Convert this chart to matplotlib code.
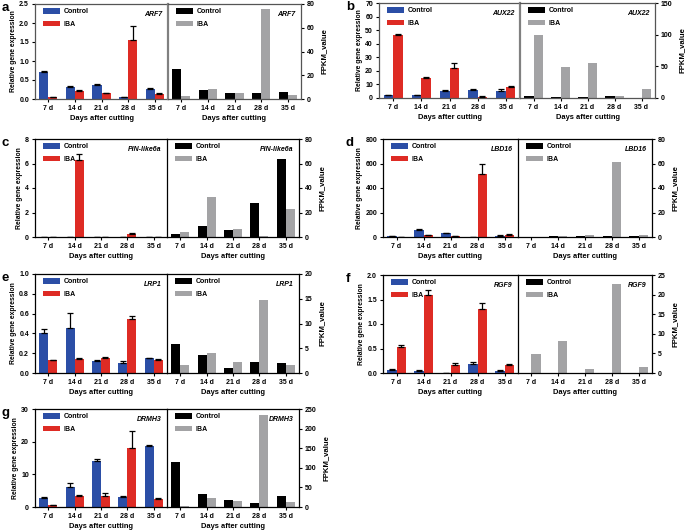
import matplotlib
matplotlib.use("Agg")
import matplotlib.pyplot as plt
import numpy as np

plt.rcParams['font.family'] = ['Liberation Sans', 'DejaVu Sans']
plt.rcParams['font.weight'] = 'bold'

days = ["7 d", "14 d", "21 d", "28 d", "35 d"]

# ---- data ----
a_ctrl = [0.71, 0.32, 0.36, 0.05, 0.27]
a_ctrl_err = [0.03, 0.03, 0.04, 0.01, 0.02]
a_iba = [0.05, 0.22, 0.15, 1.55, 0.13]
a_iba_err = [0.01, 0.02, 0.02, 0.36, 0.02]
a_fpkm_ctrl = [25, 7.9, 5.4, 4.8, 5.6]
a_fpkm_iba = [2.5, 8.7, 5.3, 75.5, 3.7]

b_ctrl = [2.2, 2.2, 5.1, 5.9, 5.4]
b_ctrl_err = [0.3, 0.3, 0.5, 0.4, 1.3]
b_iba = [46.7, 14.4, 22.3, 1.0, 8.3]
b_iba_err = [0.8, 1.1, 3.2, 0.2, 0.4]
b_fpkm_ctrl = [3, 1, 1.5, 3, 0.5]
b_fpkm_iba = [99, 49, 54.5, 3.5, 14.7]

c_ctrl = [0, 0.03, 0, 0, 0]
c_ctrl_err = [0, 0, 0, 0, 0]
c_iba = [0, 6.25, 0, 0.22, 0]
c_iba_err = [0, 0.55, 0, 0.08, 0]
c_fpkm_ctrl = [2.2, 9, 5.5, 27.4, 63.5]
c_fpkm_iba = [4.4, 33, 6.3, 1, 22.5]

d_ctrl = [5, 55, 33, 0, 12]
d_ctrl_err = [0, 8, 3, 0, 2]
d_iba = [0, 16, 8, 512, 17]
d_iba_err = [0, 2, 2, 88, 5]
d_fpkm_ctrl = [0, 0.8, 0.8, 0.5, 0.8]
d_fpkm_iba = [0, 0.8, 1.5, 61, 1.7]

e_ctrl = [0.40, 0.45, 0.12, 0.10, 0.15]
e_ctrl_err = [0.04, 0.16, 0.015, 0.02, 0.005]
e_iba = [0.13, 0.14, 0.15, 0.55, 0.135]
e_iba_err = [0.005, 0.008, 0.015, 0.03, 0.01]
e_fpkm_ctrl = [5.8, 3.7, 1.0, 2.2, 2.1]
e_fpkm_iba = [1.6, 4.0, 2.2, 14.8, 1.6]

f_ctrl = [0.07, 0.05, 0.01, 0.19, 0.05]
f_ctrl_err = [0.005, 0.005, 0, 0.025, 0.005]
f_iba = [0.53, 1.59, 0.17, 1.31, 0.16]
f_iba_err = [0.04, 0.11, 0.03, 0.12, 0.015]
f_fpkm_ctrl = [0, 0, 0, 0, 0]
f_fpkm_iba = [4.8, 8.1, 1.1, 22.6, 1.6]

g_ctrl = [2.7, 6.0, 14.1, 3.2, 18.8]
g_ctrl_err = [0.3, 1.2, 0.7, 0.3, 0.2]
g_iba = [0.5, 3.3, 3.5, 18.0, 2.4]
g_iba_err = [0.05, 0.3, 0.7, 5.2, 0.3]
g_fpkm_ctrl = [116, 34, 18.6, 10, 27]
g_fpkm_iba = [3.5, 23, 16, 235, 12.7]

panels = [
    dict(letter="a", gene="ARF7", d=(a_ctrl, a_ctrl_err, a_iba, a_iba_err, a_fpkm_ctrl, a_fpkm_iba),
         lmax=2.5, lstep=0.5, lfmt="{:.1f}", rmax=80, rstep=20, px=(35, 168, 301, 4, 99), grey=True),
    dict(letter="b", gene="AUX22", d=(b_ctrl, b_ctrl_err, b_iba, b_iba_err, b_fpkm_ctrl, b_fpkm_iba),
         lmax=70, lstep=10, lfmt="{:.0f}", rmax=150, rstep=50, px=(379, 520, 655, 3, 98), grey=True),
    dict(letter="c", gene="PIN-like6a", d=(c_ctrl, c_ctrl_err, c_iba, c_iba_err, c_fpkm_ctrl, c_fpkm_iba),
         lmax=8, lstep=2, lfmt="{:.0f}", rmax=80, rstep=20, px=(35, 167, 299, 139, 237), grey=False),
    dict(letter="d", gene="LBD16", d=(d_ctrl, d_ctrl_err, d_iba, d_iba_err, d_fpkm_ctrl, d_fpkm_iba),
         lmax=800, lstep=200, lfmt="{:.0f}", rmax=80, rstep=20, px=(383, 518, 652, 139, 237), grey=False),
    dict(letter="e", gene="LRP1", d=(e_ctrl, e_ctrl_err, e_iba, e_iba_err, e_fpkm_ctrl, e_fpkm_iba),
         lmax=1.0, lstep=0.2, lfmt="{:.1f}", rmax=20, rstep=5, px=(35, 167, 299, 274, 373), grey=False),
    dict(letter="f", gene="RGF9", d=(f_ctrl, f_ctrl_err, f_iba, f_iba_err, f_fpkm_ctrl, f_fpkm_iba),
         lmax=2.0, lstep=0.5, lfmt="{:.1f}", rmax=25, rstep=5, px=(383, 518, 652, 275, 373), grey=False),
    dict(letter="g", gene="DRMH3", d=(g_ctrl, g_ctrl_err, g_iba, g_iba_err, g_fpkm_ctrl, g_fpkm_iba),
         lmax=30, lstep=10, lfmt="{:.0f}", rmax=250, rstep=50, px=(35, 167, 299, 409, 507), grey=False),
]

W, H = 685, 530
fig = plt.figure(figsize=(W / 100, H / 100), dpi=100)

BLUE = "#2B4EA6"
RED = "#DE2B24"
BLACK = "#000000"
GREY = "#A3A3A5"
FS_T = 5.0
FS_L = 5.4
bw = 0.34
x = np.arange(len(days))

def fax(x0, x1, y0, y1):
    return fig.add_axes([x0 / W, 1 - y1 / H, (x1 - x0) / W, (y1 - y0) / H])

for p in panels:
    x0, xm, x1, y0, y1 = p["px"]
    ctrl, ctrl_e, iba, iba_e, fc, fi = p["d"]
    spine_c = "#555555" if p["grey"] else "black"
    div_c = "#808080" if p["grey"] else "black"
    div_w = 1.6 if p["grey"] else 0.9

    axL = fax(x0, xm, y0, y1)
    axR = fax(xm, x1, y0, y1)

    axL.bar(x - bw / 2, ctrl, bw, color=BLUE, label="Control", zorder=2)
    axL.bar(x + bw / 2, iba, bw, color=RED, label="IBA", zorder=2)
    axL.errorbar(x - bw / 2, ctrl, yerr=[np.zeros(5), ctrl_e], fmt="none",
                 ecolor="black", elinewidth=0.9, capsize=2.2, capthick=0.9, zorder=3)
    axL.errorbar(x + bw / 2, iba, yerr=[np.zeros(5), iba_e], fmt="none",
                 ecolor="black", elinewidth=0.9, capsize=2.2, capthick=0.9, zorder=3)
    axR.bar(x - bw / 2, fc, bw, color=BLACK, label="Control", zorder=2)
    axR.bar(x + bw / 2, fi, bw, color=GREY, label="IBA", zorder=2)

    for ax, ymax, step in ((axL, p["lmax"], p["lstep"]), (axR, p["rmax"], p["rstep"])):
        ax.set_xlim(-0.5, 4.5)
        ax.set_ylim(0, ymax)
        ax.set_xticks(x)
        ax.set_xticklabels(days, fontsize=FS_T, fontweight="bold")
        ax.set_xlabel("Days after cutting", fontsize=FS_L, fontweight="bold", labelpad=2.5)
        for s in ax.spines.values():
            s.set_color(spine_c)
            s.set_linewidth(0.9)
        ax.tick_params(axis="both", length=2.5, width=0.8, pad=1.8, labelsize=FS_T, colors="black")
        ax.text(0.96, 0.89, p["gene"], transform=ax.transAxes, ha="right", va="center",
                fontsize=FS_T, fontweight="bold", style="italic")
        leg = ax.legend(loc="upper left", bbox_to_anchor=(0.03, 1.0), frameon=False,
                        fontsize=FS_T, handlelength=2.4, handleheight=0.9, labelspacing=0.75,
                        handletextpad=0.5, borderaxespad=0.2)
        for t in leg.get_texts():
            t.set_fontweight("bold")

    ticksL = np.arange(0, p["lmax"] + p["lstep"] / 2, p["lstep"])
    axL.set_yticks(ticksL)
    axL.set_yticklabels([p["lfmt"].format(v) for v in ticksL], fontsize=FS_T, fontweight="bold")
    axL.set_ylabel("Relative gene expression", fontsize=4.9, fontweight="bold", labelpad=1.5)
    axL.spines["right"].set_visible(False)

    ticksR = np.arange(0, p["rmax"] + p["rstep"] / 2, p["rstep"])
    axR.yaxis.tick_right()
    axR.yaxis.set_label_position("right")
    axR.set_yticks(ticksR)
    axR.set_yticklabels([f"{v:.0f}" for v in ticksR], fontsize=FS_T, fontweight="bold")
    axR.set_ylabel("FPKM_value", fontsize=5.6, fontweight="bold", labelpad=4)
    axR.spines["left"].set_color(div_c)
    axR.spines["left"].set_linewidth(div_w)

    lx = 2 if x0 < 100 else 346
    fig.text(lx / W, 1 - (y0 + 4) / H, p["letter"], fontsize=9.5, fontweight="bold",
             ha="left", va="center")

fig.savefig("out.png", dpi=100)
